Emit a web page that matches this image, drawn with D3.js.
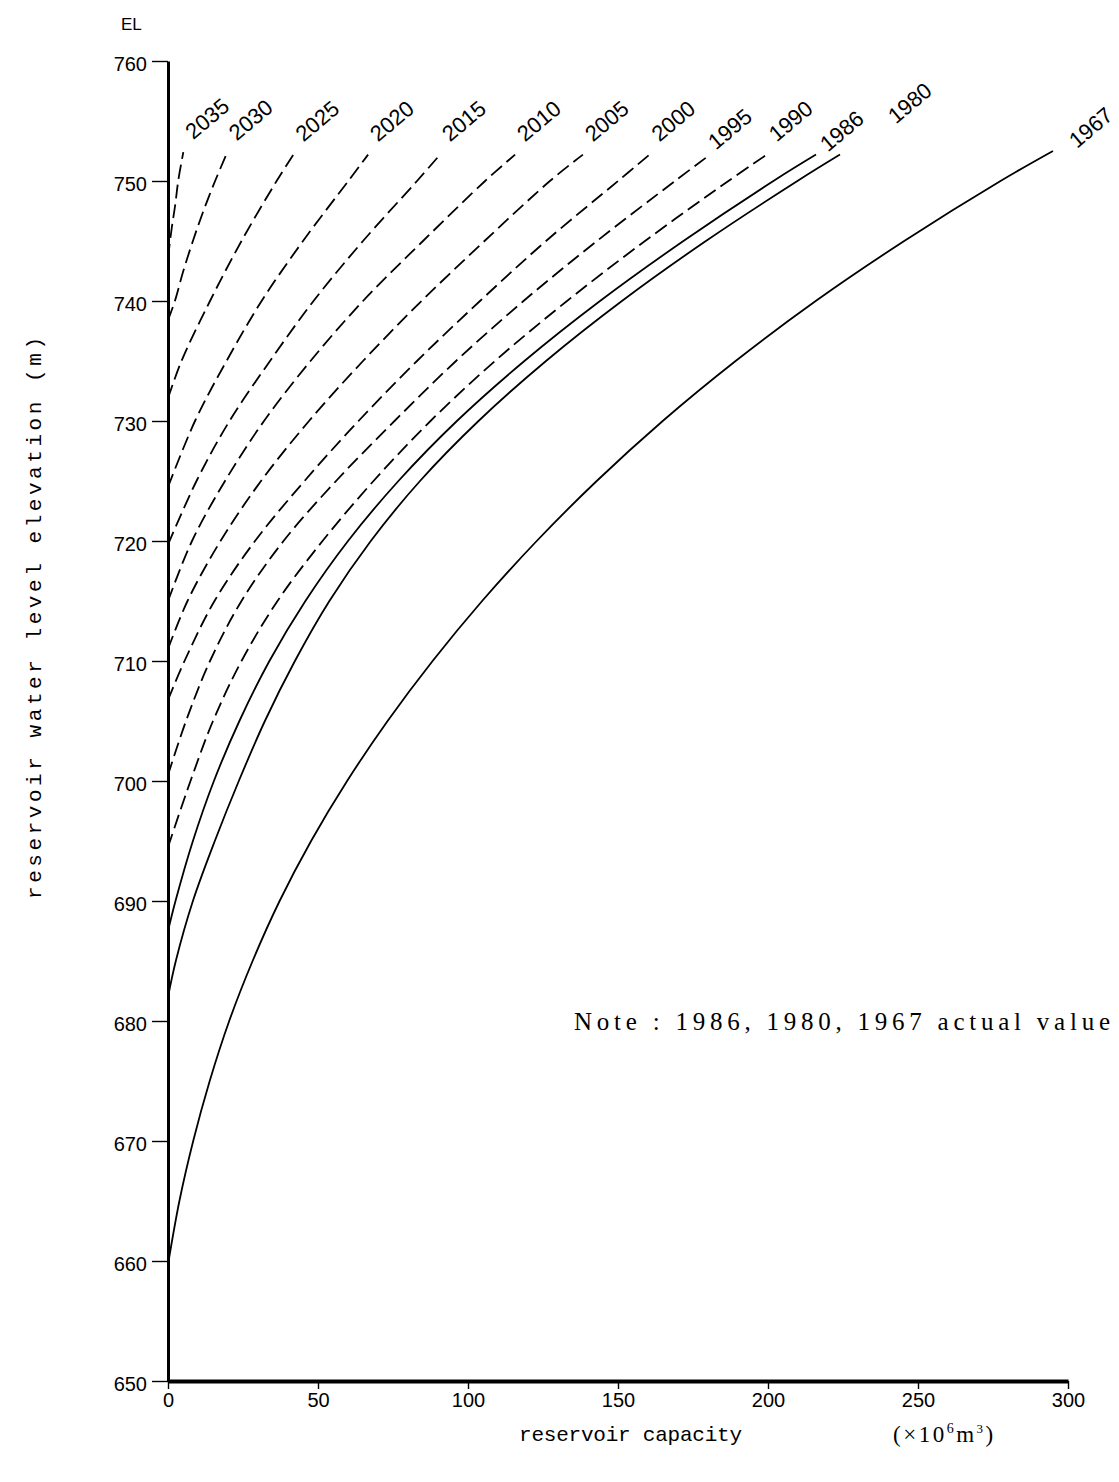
<!DOCTYPE html>
<html>
<head>
<meta charset="utf-8">
<script src="https://cdn.jsdelivr.net/npm/d3@7"></script>
<style>
  html, body { margin: 0; padding: 0; background: #fff; }
  svg { display: block; }
</style>
</head>
<body>
<div id="chart"></div>
<script>
// curve labels, top-left to bottom-right
const years = ["2035", "2030", "2025", "2020", "2015", "2010", "2005", "2000", "1995", "1990", "1986", "1980", "1967"];
// years measured (solid lines); the rest are projections
const actualYears = ["1986", "1980", "1967"];

// [capacity (10^6 m3), elevation (m)]
const curve2035 = [[0, 743.6], [1.2, 746], [2.4, 748], [3.4, 750], [5.1, 752.4]];
const curve2030 = [[0, 738.4], [2.3, 740], [5.1, 742.5], [8.3, 745], [11.8, 747.5], [15.7, 750], [19.6, 752.3]];
const curve2025 = [[0, 731.9], [4.5, 735], [14, 740], [24.5, 745], [36.2, 750], [41.8, 752.2]];
const curve2020 = [[0, 724.5], [9, 730], [19.5, 735], [31.2, 740], [45, 745], [60.1, 750], [66.7, 752.2]];
const curve2015 = [[0, 719.7], [9.5, 725], [20.5, 730], [34, 735], [48.5, 740], [65, 745], [83, 750], [90.7, 752.2]];
const curve2010 = [[0, 715], [8, 720], [19, 725], [32, 730], [47.5, 735], [65, 740], [85, 745], [105.7, 750], [115.7, 752.2]];
const curve2005 = [[0, 711], [6.5, 715], [17.5, 720], [31, 725], [47, 730], [65, 735], [84.5, 740], [105.5, 745], [127.3, 750], [138.3, 752.2]];
const curve2000 = [[0, 706.75], [5.5, 710], [15.5, 715], [29, 720], [45.5, 725], [63.5, 730], [83, 735], [104, 740], [126, 745], [150, 750], [160.5, 752.2]];
const curve1995 = [[0, 700.5], [6, 705], [14, 710], [24.5, 715], [38.5, 720], [56, 725], [75.5, 730], [96, 735], [118.5, 740], [143, 745], [169, 750], [180.7, 752.2]];
const curve1990 = [[0, 694.5], [7.5, 700], [15, 705], [24.5, 710], [36.5, 715], [51.5, 720], [68.5, 725], [87.5, 730], [109, 735], [133, 740], [159, 745], [186.8, 750], [199.6, 752.2]];
const curve1986 = [[0, 687.5], [2.5, 690], [8.3, 695], [15.3, 700], [23.8, 705], [33.8, 710], [45.8, 715], [60, 720], [76.8, 725], [96.3, 730], [118.8, 735], [144, 740], [171.8, 745], [201.8, 750], [216, 752.2]];
const curve1980 = [[0, 682], [2.6, 685], [8.3, 690], [15.6, 695], [23.6, 700], [32.3, 705], [42.3, 710], [53.8, 715], [67.6, 720], [84, 725], [103.5, 730], [126, 735], [151.3, 740], [179.3, 745], [209.8, 750], [224, 752.2]];
const curve1967 = [[0, 659.7], [3.8, 665], [8.4, 670], [13.9, 675], [20.4, 680], [28.2, 685], [37.2, 690], [47.7, 695], [59.7, 700], [73.2, 705], [88.2, 710], [104.7, 715], [122.9, 720], [142.9, 725], [164.9, 730], [189.2, 735], [215.9, 740], [245.4, 745], [277.5, 750], [295, 752.5]];

const curves = [curve2035, curve2030, curve2025, curve2020, curve2015, curve2010, curve2005,
                curve2000, curve1995, curve1990, curve1986, curve1980, curve1967];

const xTicks = [0, 50, 100, 150, 200, 250, 300];
const yTicks = [650, 660, 670, 680, 690, 700, 710, 720, 730, 740, 750, 760];

const width = 1119, height = 1482;

const svg = d3.select("#chart").append("svg")
  .attr("width", width)
  .attr("height", height)
  .style("background", "#fff");

// scales
const x = d3.scaleLinear().domain([0, 300]).range([168, 1068]);
const y = d3.scaleLinear().domain([650, 760]).range([1381, 61]);

// y axis
const yAxis = svg.append("g")
  .attr("transform", `translate(${x(0)},0)`)
  .call(d3.axisLeft(y).tickValues(yTicks).tickSize(16).tickPadding(5).tickSizeOuter(0));
yAxis.select(".domain").attr("stroke-width", 3);
yAxis.selectAll(".tick line").attr("stroke-width", 1.4);
yAxis.selectAll(".tick text")
  .attr("font-family", "'Liberation Sans', Arial, sans-serif")
  .attr("font-size", 20)
  .attr("dy", "0.45em")
  .attr("fill", "#000");

// x axis
const xAxis = svg.append("g")
  .attr("transform", `translate(0,${y(650)})`)
  .call(d3.axisBottom(x).tickValues(xTicks).tickSize(8).tickPadding(4).tickSizeOuter(0));
xAxis.select(".domain").attr("stroke-width", 4);
xAxis.selectAll(".tick line").attr("stroke-width", 1.4);
xAxis.selectAll(".tick text")
  .attr("font-family", "'Liberation Sans', Arial, sans-serif")
  .attr("font-size", 20)
  .attr("fill", "#000");

// curves
const line = d3.line()
  .x(d => x(d[0]))
  .y(d => y(d[1]))
  .curve(d3.curveCatmullRom.alpha(0.5));

svg.append("g")
  .selectAll("path")
  .data(curves)
  .join("path")
  .attr("d", line)
  .attr("fill", "none")
  .attr("stroke", "#000")
  .attr("stroke-width", 1.8)
  .attr("stroke-dasharray", (d, i) => actualYears.includes(years[i]) ? null : "14,6");

// year labels at the top end of each curve
const nudge = { "1980": [56, -30], "1967": [24, -2], "1986": [12, -2], "1995": [6, -4] };
svg.append("g")
  .selectAll("text")
  .data(curves)
  .join("text")
  .attr("transform", (d, i) => {
    const end = d[d.length - 1];
    const [dx, dy] = nudge[years[i]] || [10, -12];
    return `translate(${x(end[0]) + dx},${y(end[1]) + dy}) rotate(-40)`;
  })
  .attr("font-family", "'Liberation Sans', Arial, sans-serif")
  .attr("font-size", 22)
  .attr("fill", "#000")
  .text((d, i) => years[i]);

// axis titles and note
svg.append("text")
  .attr("x", 121).attr("y", 30)
  .attr("font-family", "'Liberation Sans', Arial, sans-serif")
  .attr("font-size", 17)
  .text("EL");

svg.append("text")
  .attr("transform", "translate(41,618) rotate(-90)")
  .attr("text-anchor", "middle")
  .attr("font-family", "'Liberation Mono', 'DejaVu Sans Mono', monospace")
  .attr("font-size", 21)
  .attr("textLength", 562)
  .attr("lengthAdjust", "spacing")
  .text("reservoir water level elevation (m)");

svg.append("text")
  .attr("x", 519).attr("y", 1441)
  .attr("font-family", "'Liberation Mono', 'DejaVu Sans Mono', monospace")
  .attr("font-size", 21)
  .attr("textLength", 223)
  .attr("lengthAdjust", "spacing")
  .text("reservoir capacity");

const unit = svg.append("text")
  .attr("x", 893).attr("y", 1442)
  .attr("font-family", "'Liberation Serif', 'Times New Roman', serif")
  .attr("font-size", 23)
  .attr("letter-spacing", 2.5);
unit.append("tspan").text("(×10");
unit.append("tspan").attr("dy", -9).attr("font-size", 14).text("6");
unit.append("tspan").attr("dy", 9).text("m");
unit.append("tspan").attr("dy", -9).attr("font-size", 13).text("3");
unit.append("tspan").attr("dy", 9).text(")");

svg.append("text")
  .attr("x", 574).attr("y", 1030)
  .attr("font-family", "'Liberation Serif', 'Times New Roman', serif")
  .attr("font-size", 25)
  .attr("textLength", 536)
  .attr("lengthAdjust", "spacing")
  .text("Note : 1986, 1980, 1967 actual value");
</script>
</body>
</html>
